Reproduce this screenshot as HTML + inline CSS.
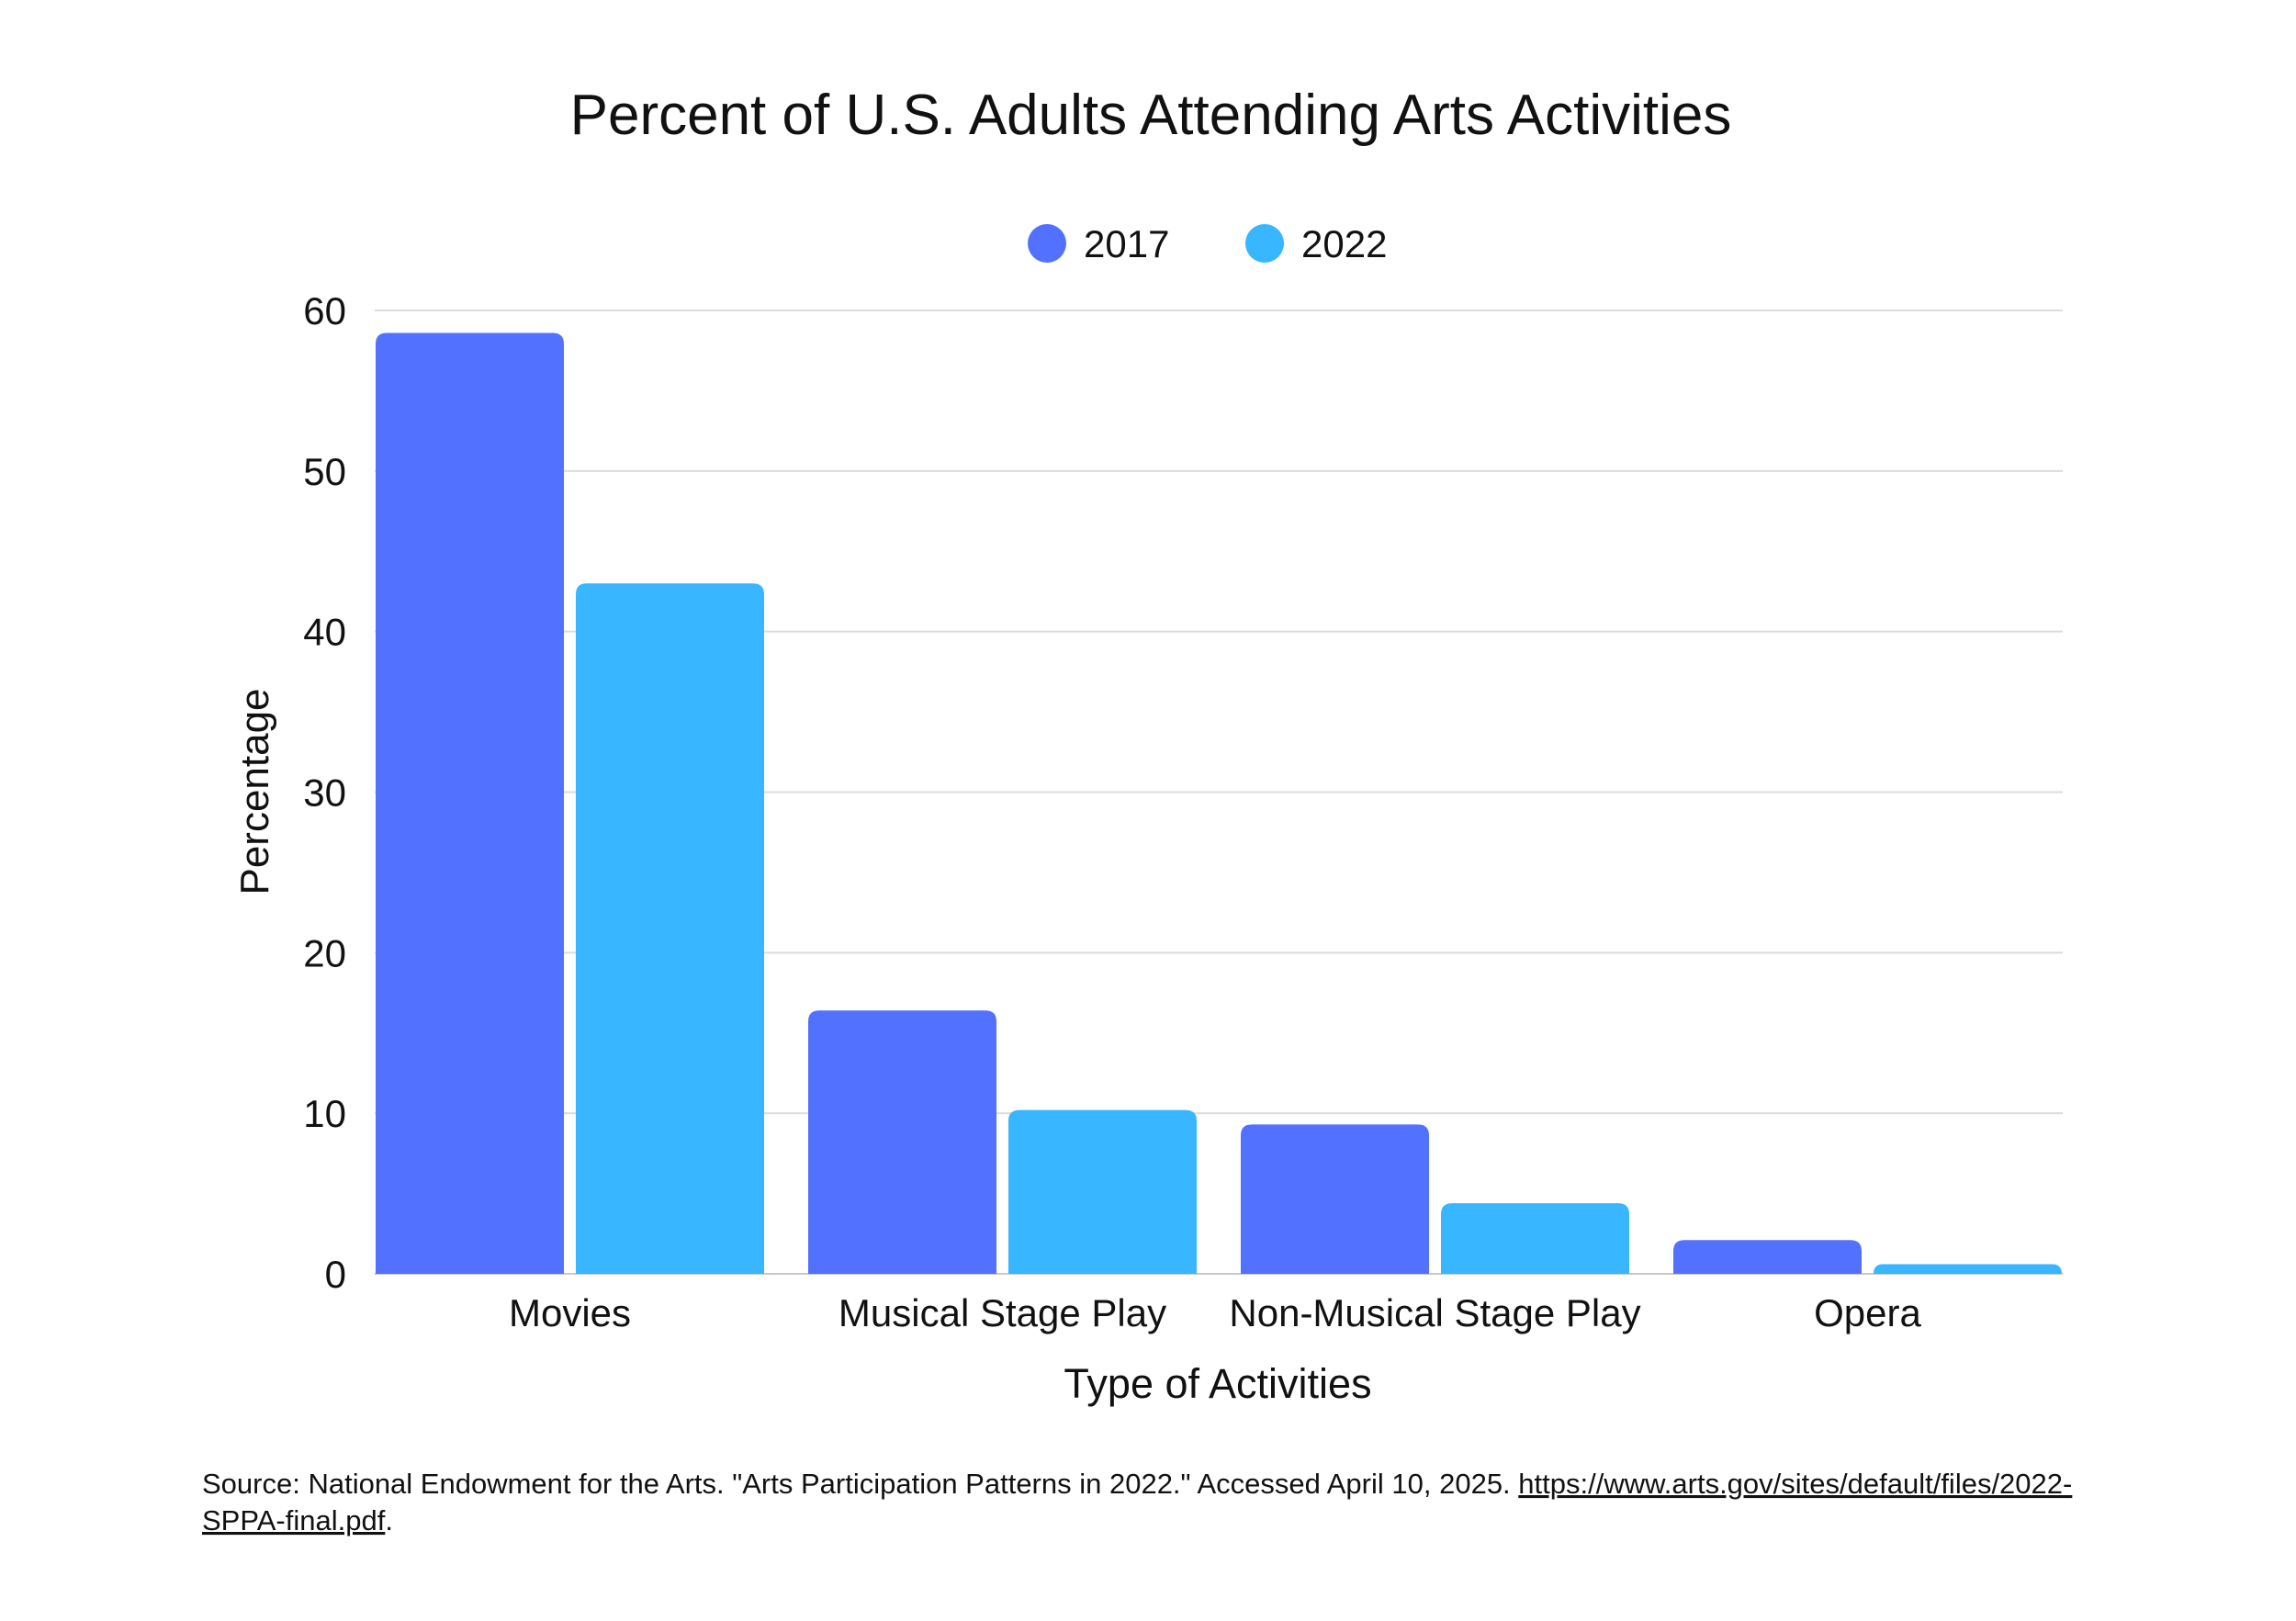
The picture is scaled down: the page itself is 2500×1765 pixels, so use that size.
<!DOCTYPE html>
<html><head><meta charset="utf-8"><style>
html,body{margin:0;padding:0;background:#fff;}
svg{display:block;font-family:"Liberation Sans",sans-serif;}
</style></head><body>
<svg id="chart" width="2500" height="1765" viewBox="0 0 2500 1765" xmlns="http://www.w3.org/2000/svg">
<rect width="2500" height="1765" fill="#fff"/>
<text x="1253" y="146" font-size="62" text-anchor="middle" fill="#111">Percent of U.S. Adults Attending Arts Activities</text>
<g>
<g><circle cx="1140" cy="265" r="21" fill="#5271ff"/><text x="1180" y="280" font-size="42" fill="#111">2017</text></g>
<g><circle cx="1377" cy="265" r="21" fill="#38b6ff"/><text x="1417" y="280" font-size="42" fill="#111">2022</text></g>
</g>
<g id="grid"></g>
<g id="bars"></g>
<g id="xlabels"></g>
<text x="1326" y="1522" font-size="45" text-anchor="middle" fill="#111">Type of Activities</text>
<text transform="translate(292,862) rotate(-90)" font-size="44" text-anchor="middle" fill="#111">Percentage</text>
<text font-size="31" fill="#111"><tspan x="220" y="1626">Source: National Endowment for the Arts. "Arts Participation Patterns in 2022." Accessed April 10, 2025. <tspan text-decoration="underline">https://www.arts.gov/sites/default/files/2022-</tspan></tspan><tspan x="220" y="1666"><tspan text-decoration="underline">SPPA-final.pdf</tspan>.</tspan></text>
</svg>
<script>
const categories = ["Movies","Musical Stage Play","Non-Musical Stage Play","Opera"];
const values2017 = [58.6,16.4,9.3,2.1];
const values2022 = [43.0,10.2,4.4,0.6];
const yTicks = [0,10,20,30,40,50,60];
const NS="http://www.w3.org/2000/svg";
const plotL=408,plotR=2246,plotT=338,plotB=1387,yMax=60;
const yScale=v=>plotB-(v/yMax)*(plotB-plotT);
const groupW=471;
const barW=205,gap=13;
const grid=document.getElementById('grid');
yTicks.forEach(t=>{
  const l=document.createElementNS(NS,'line');
  
  
  l.setAttribute('x1',plotL);l.setAttribute('x2',plotR);
  l.setAttribute('y1',yScale(t));l.setAttribute('y2',yScale(t));
  l.setAttribute('stroke',t===0?'#c8c8c8':'#dcdcdc');l.setAttribute('stroke-width','2');
  grid.appendChild(l);
  const tx=document.createElementNS(NS,'text');
  
  
  tx.setAttribute('x',377);tx.setAttribute('y',yScale(t)+15);
  tx.setAttribute('text-anchor','end');tx.setAttribute('font-size','42');tx.setAttribute('fill','#111');
  tx.textContent=t;grid.appendChild(tx);
});
function barPath(x,w,v){
  const yt=yScale(v),h=plotB-yt,r=Math.min(12,h,w/2);
  return `M${x},${plotB}V${yt+r}Q${x},${yt} ${x+r},${yt}H${x+w-r}Q${x+w},${yt} ${x+w},${yt+r}V${plotB}Z`;
}
const bars=document.getElementById('bars'),xl=document.getElementById('xlabels');
categories.forEach((c,i)=>{
  const g0=plotL+i*groupW+1;
  [[values2017,'#5271ff','bar-2017'],[values2022,'#38b6ff','bar-2022']].forEach((s,j)=>{
    const p=document.createElementNS(NS,'path');
    
    
    p.setAttribute('d',barPath(g0+j*(barW+gap),barW,s[0][i]));
    p.setAttribute('fill',s[1]);bars.appendChild(p);
  });
  const t=document.createElementNS(NS,'text');
  
  
  t.setAttribute('x',g0+barW+gap/2);t.setAttribute('y',1444);
  t.setAttribute('text-anchor','middle');t.setAttribute('font-size','42');t.setAttribute('fill','#111');
  t.textContent=c;xl.appendChild(t);
});
</script>
</body></html>
